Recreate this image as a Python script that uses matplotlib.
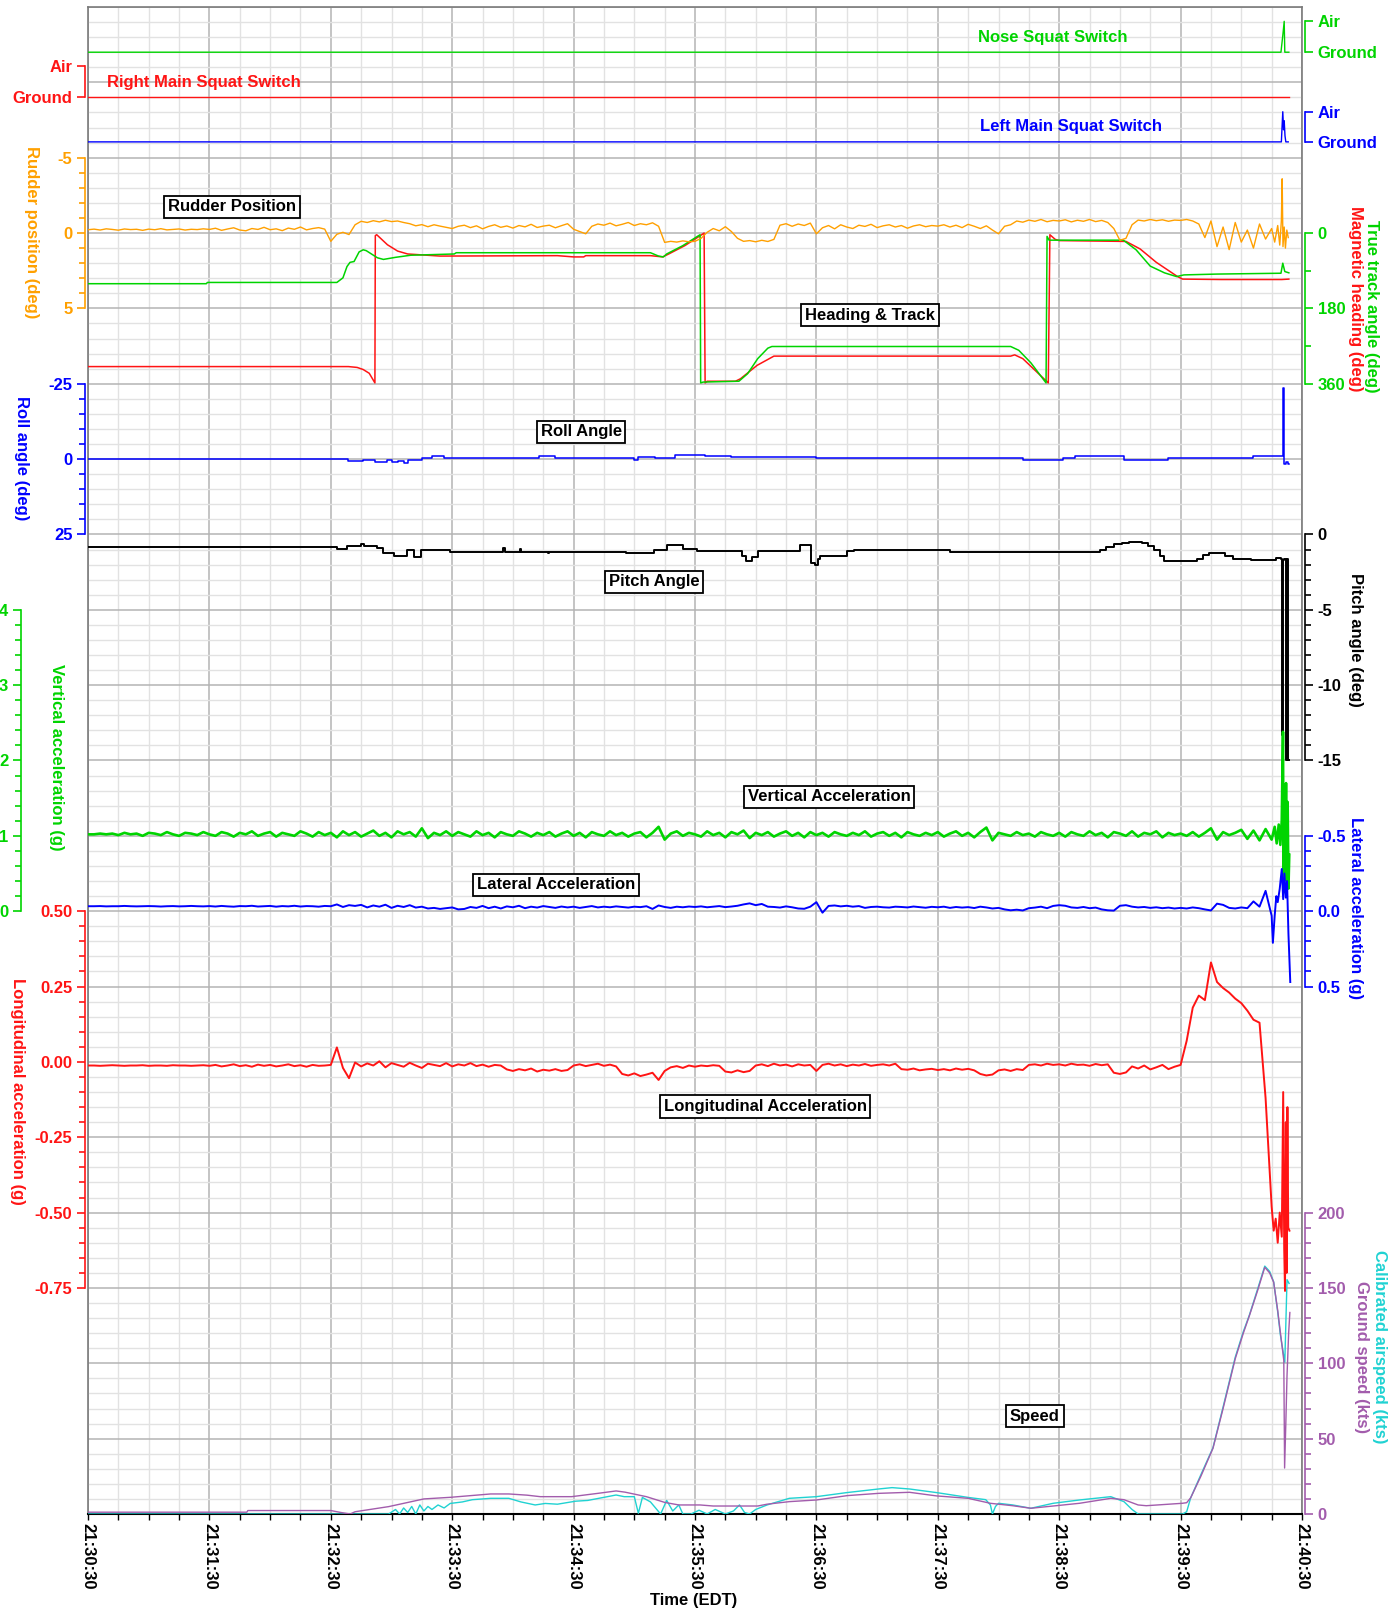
import numpy as np
import matplotlib
matplotlib.use("Agg")
import matplotlib.pyplot as plt

plt.rcParams["font.family"] = ["Liberation Sans", "DejaVu Sans"]
plt.rcParams["font.weight"] = "bold"
plt.rcParams["axes.unicode_minus"] = False

# ── couleurs ────────────────────────────────────────────────
GREEN = "#00d400"
RED = "#ff1414"
BLUE = "#0000ff"
ORANGE = "#ffa000"
PURPLE = "#a25cac"
CYAN = "#20d2d2"
BLACK = "#000000"

# ── axe du temps (secondes depuis 21:30:30) ─────────────────
time_labels = ["21:30:30", "21:31:30", "21:32:30", "21:33:30", "21:34:30", "21:35:30",
               "21:36:30", "21:37:30", "21:38:30", "21:39:30", "21:40:30"]
SAMPLE = 3.0   # pas d'échantillonnage des voies bruitées (s)

# ── squat switches (0 = Ground, 1 = Air) ────────────────────
nose_t = [0, 589.6, 590.6, 591.2, 591.5, 593.5]
nose_v = [0, 0, 0.6, 1.0, 0, 0]
right_main_t = [0, 593.5]
right_main_v = [0, 0]
left_main_t = [0, 589.8, 590.5, 590.9, 591.2, 591.6, 592.0, 593.2]
left_main_v = [0, 0, 1.0, 0.4, 0.7, 0.2, 0, 0]

# ── rudder position (deg), un point toutes les 3 s ──────────
rudder_vals = [
    -0.22, -0.26, -0.20, -0.28, -0.24, -0.19, -0.27, -0.23, -0.25, -0.18, -0.26, -0.22, -0.29, -0.21, -0.24, -0.27, -0.20, -0.25, -0.23, -0.28,
    -0.24, -0.32, -0.18, -0.27, -0.35, -0.20, -0.15, -0.30, -0.24, -0.38, -0.22, -0.28, -0.16, -0.33, -0.25, -0.40, -0.21, -0.30, -0.36, -0.26,
    0.55, 0.08, -0.05, 0.10, -0.55, -0.78, -0.70, -0.82, -0.74, -0.85, -0.76, -0.80, -0.70, -0.62, -0.48, -0.56, -0.42, -0.55, -0.46, -0.38,
    -0.30, -0.45, -0.52, -0.36, -0.48, -0.28, -0.44, -0.55, -0.38, -0.47, -0.33, -0.50, -0.41, -0.58, -0.37, -0.46, -0.52, -0.35, -0.49, -0.62,
    -0.25, -0.10, 0.05, -0.45, -0.60, -0.52, -0.66, -0.48, -0.58, -0.70, -0.50, -0.62, -0.55, -0.68, -0.45, 0.62, 0.55, 0.60, 0.52, 0.58,
    0.55, 0.35, -0.05, -0.30, -0.15, -0.42, -0.10, 0.35, 0.55, 0.50, 0.58, 0.48, 0.56, 0.42, -0.52, -0.62, -0.45, -0.60, -0.50, -0.66,
    0.05, -0.35, -0.50, -0.28, -0.55, -0.40, -0.30, -0.52, -0.44, -0.58, -0.36, -0.48, -0.55, -0.40, -0.50, -0.32, -0.47, -0.55, -0.42, -0.50,
    -0.46, -0.55, -0.40, -0.52, -0.36, -0.58, -0.45, -0.30, -0.48, -0.20, 0.05, -0.45, -0.55, -0.80, -0.72, -0.86, -0.78, -0.90, -0.75, -0.84,
    -0.80, -0.88, -0.74, -0.85, -0.78, -0.90, -0.76, -0.84, -0.70, -0.30, 0.48, 0.35, -0.55, -0.86, -0.80, -0.90, -0.82, -0.88, -0.78, -0.86,
    -0.84, -0.90, -0.80, -0.60, 0.30, -0.80, 0.90, -0.40, 1.10, -0.70, 0.60, -0.20, 1.00, -0.60, 0.40, -0.30,
]
rudder_tail_t = [586.5, 588.0, 589.0, 589.8, 590.2, 590.6, 591.2, 591.8, 592.5, 593.2]
rudder_tail_v = [0.60, -0.50, 0.80, -0.80, -3.60, 0.90, -0.40, 1.00, -0.20, 0.30]

# ── heading & track (deg) ───────────────────────────────────
track_t = [0, 58.5, 59, 123, 126, 128, 129.5, 131.5, 134, 136, 137.5, 143, 146, 152, 159.5, 181, 182,
           278, 282, 284.4, 286, 294, 302.5, 302.8, 304, 321.7, 326, 331, 336, 338, 456, 460, 466,
           473.5, 474, 475, 511.7, 518, 525, 532, 538, 541.6, 558, 589.6, 590.5, 591.5, 593.5]
track_v = [121, 121, 118, 118, 107, 80, 70, 68, 45, 40, 42, 59, 63, 58, 53, 50, 47,
           47, 55, 57, 50, 30, 4, 358, 356, 354, 336, 300, 275, 271, 271, 280, 310,
           358, 8, 17, 17, 40, 79, 95, 104, 100, 98, 96, 72, 92, 95]
heading_t = [0, 128.7, 133, 136, 139, 141.8, 142.0, 142.7, 148, 153, 158, 174, 232, 240, 245, 246,
             278, 284, 287, 295, 303, 304.5, 305, 306, 320, 322.5, 330.7, 339, 456, 458, 462,
             474.6, 475.4, 478, 480, 513, 520, 528, 538.5, 541, 560, 590, 593.5]
heading_v = [319, 319, 321, 326, 335, 358, 6, 4, 28, 43, 50, 55, 54, 57, 57, 54,
             54, 57, 50, 30, 5, 0, 358, 354, 354, 348, 316, 294, 294, 291, 300,
             358, 4, 15, 18, 20, 38, 70, 104, 110, 111, 111, 110]

# ── roll angle (deg), en escalier ───────────────────────────
roll_t = [0, 128.6, 136, 142, 148, 150, 153, 156, 158, 165, 170, 176, 223, 231, 270, 272, 280,
          290, 305, 318, 360, 420, 462, 482, 488, 512, 534, 576, 590.4, 590.6, 590.9, 591.2,
          592.0, 593.0, 593.5]
roll_v = [0, 0.5, 0.4, 0.8, 0.2, 1.0, 0.5, 1.2, 0.3, -0.3, -0.9, -0.5, -0.9, -0.5, 0.2, -0.6, -0.5,
          -1.2, -0.9, -0.6, -0.4, -0.5, 0.4, -0.3, -1.0, 0.4, -0.3, -0.9, -8.0, -23.6, -12.0, 1.5,
          0.8, 1.5, 1.5]

# ── pitch angle (deg), en escalier ──────────────────────────
pitch_t = [0, 123.3, 128.2, 134.8, 136.4, 143, 146, 151, 157.8, 161, 164.4, 179, 205.3, 206,
           213.5, 214, 227.5, 228, 266, 279.5, 286, 294, 301, 323, 325, 328, 331, 352, 357.5,
           359.5, 361, 362, 375, 378.4, 400, 426, 500, 503, 507, 511, 514.7, 521, 524, 527,
           530, 532, 548, 551, 554, 562, 566, 575, 587, 589.5, 590.0, 590.6, 591.0, 592.2,
           592.4, 593.3, 593.6]
pitch_v = [-0.8, -0.95, -0.77, -0.66, -0.77, -0.9, -1.2, -1.4, -1.0, -1.5, -1.06, -1.15, -0.9, -1.15,
           -0.95, -1.15, -1.25, -1.15, -1.26, -1.0, -0.73, -0.95, -1.1, -1.4, -1.77, -1.5, -1.1, -0.73, -1.9,
           -2.0, -1.6, -1.44, -1.1, -1.0, -1.05, -1.15, -1.0, -0.85, -0.66, -0.55, -0.47, -0.6, -0.75, -1.0,
           -1.4, -1.75, -1.6, -1.35, -1.25, -1.4, -1.65, -1.7, -1.55, -1.6, -13.3, -1.7, -1.6, -15.0,
           -1.6, -15.0, -15.0]

# ── vertical acceleration (g), un point toutes les 3 s ──────
vert_vals = [
    1.02, 1.02, 1.03, 1.02, 1.03, 1.01, 1.04, 1.02, 1.03, 1.00, 1.04, 1.03, 1.01, 1.05, 1.02, 1.00, 1.04, 1.03, 1.01, 1.05,
    1.02, 1.00, 1.05, 1.03, 0.99, 1.04, 1.02, 1.06, 1.00, 1.03, 1.05, 0.99, 1.04, 1.02, 1.00, 1.06, 1.03, 0.99, 1.05, 1.01,
    1.04, 0.98, 1.06, 1.01, 1.05, 0.99, 1.03, 1.07, 1.00, 1.04, 0.98, 1.06, 1.02, 1.05, 0.99, 1.10, 0.97, 1.04, 1.01, 1.06,
    1.00, 1.05, 1.02, 0.99, 1.06, 1.01, 1.04, 0.98, 1.05, 1.02, 1.00, 1.06, 1.03, 0.99, 1.04, 1.01, 1.05, 0.99, 1.03, 1.06,
    1.00, 1.04, 0.98, 1.05, 1.02, 1.00, 1.06, 1.01, 1.04, 0.99, 1.03, 1.05, 0.98, 1.04, 1.12, 0.95, 1.03, 1.06, 1.00, 1.04,
    1.02, 0.99, 1.06, 1.01, 1.04, 0.98, 1.05, 1.02, 1.07, 0.97, 1.04, 1.01, 1.05, 0.99, 1.03, 1.06, 1.00, 1.04, 0.98, 1.05,
    1.01, 1.04, 0.99, 1.05, 1.02, 1.00, 1.04, 1.01, 1.06, 0.99, 1.03, 1.05, 1.00, 1.04, 0.98, 1.05, 1.02, 1.00, 1.04, 1.01,
    1.05, 0.99, 1.03, 1.06, 1.00, 1.04, 0.98, 1.05, 1.11, 0.94, 1.04, 1.02, 1.00, 1.05, 1.01, 1.03, 0.99, 1.05, 1.02, 1.00,
    1.04, 0.99, 1.05, 1.02, 1.00, 1.06, 1.01, 1.04, 0.98, 1.05, 1.03, 1.00, 1.06, 0.99, 1.04, 1.02, 1.06, 0.98, 1.04, 1.01,
    1.03, 1.00, 1.05, 0.99, 1.04, 1.10, 0.95, 1.05, 1.01, 1.04, 1.08, 0.96, 1.07, 0.94, 1.09, 0.95,
]
vert_tail_t = [586.5, 587.5, 588.5, 589.3, 590.0, 590.6, 590.9, 591.3, 591.7, 592.1, 592.5, 592.9, 593.3, 593.7]
vert_tail_v = [1.12, 0.90, 1.15, 0.88, 1.20, 2.38, 0.25, 1.60, 0.60, 1.70, 0.40, 1.45, 0.30, 0.75]

# ── lateral acceleration (g) ────────────────────────────────
lat_vals = [
    -0.033, -0.033, -0.034, -0.032, -0.033, -0.033, -0.035, -0.033, -0.032, -0.033, -0.034, -0.033, -0.031, -0.033, -0.034, -0.032, -0.033, -0.035, -0.033, -0.032,
    -0.034, -0.031, -0.035, -0.032, -0.030, -0.034, -0.033, -0.036, -0.031, -0.033, -0.035, -0.030, -0.034, -0.032, -0.036, -0.031, -0.034, -0.033, -0.030, -0.035,
    -0.033, -0.045, -0.028, -0.040, -0.035, -0.042, -0.025, -0.038, -0.030, -0.043, -0.022, -0.036, -0.028, -0.040, -0.024, -0.030, -0.018, -0.022, -0.015, -0.020,
    -0.025, -0.012, -0.015, -0.028, -0.022, -0.035, -0.020, -0.030, -0.018, -0.032, -0.026, -0.036, -0.020, -0.030, -0.024, -0.034, -0.028, -0.022, -0.031, -0.025,
    -0.030, -0.022, -0.028, -0.034, -0.025, -0.030, -0.026, -0.032, -0.028, -0.024, -0.030, -0.027, -0.033, -0.015, -0.038, -0.028, -0.022, -0.030, -0.026, -0.031,
    -0.028, -0.032, -0.026, -0.030, -0.034, -0.027, -0.031, -0.036, -0.045, -0.052, -0.040, -0.048, -0.030, -0.028, -0.024, -0.032, -0.026, -0.018, -0.016, -0.030,
    -0.060, 0.010, -0.035, -0.038, -0.032, -0.036, -0.030, -0.034, -0.022, -0.028, -0.030, -0.026, -0.024, -0.030, -0.028, -0.025, -0.031, -0.027, -0.023, -0.029,
    -0.026, -0.030, -0.022, -0.028, -0.024, -0.027, -0.021, -0.030, -0.025, -0.018, -0.022, -0.012, -0.006, -0.010, -0.005, -0.020, -0.024, -0.030, -0.020, -0.035,
    -0.040, -0.036, -0.025, -0.022, -0.028, -0.020, -0.024, -0.012, -0.006, -0.004, -0.036, -0.040, -0.030, -0.025, -0.028, -0.022, -0.026, -0.020, -0.024, -0.018,
    -0.022, -0.018, -0.025, -0.020, -0.012, -0.005, -0.050, -0.042, -0.022, -0.018, -0.025, -0.020, -0.065, -0.030, -0.135, 0.030,
]
lat_tail_t = [585.6, 586.5, 587.3, 588.0, 589.0, 590.0, 590.7, 591.3, 592.0, 592.6, 593.3, 594.2]
lat_tail_v = [0.21, 0.03, -0.10, -0.06, -0.15, -0.28, -0.08, -0.25, -0.09, -0.20, 0.15, 0.47]

# ── longitudinal acceleration (g) ───────────────────────────
long_vals = [
    -0.012, -0.012, -0.013, -0.012, -0.011, -0.012, -0.013, -0.012, -0.012, -0.011, -0.013, -0.012, -0.012, -0.013, -0.011, -0.012, -0.012, -0.013, -0.012, -0.011,
    -0.013, -0.010, -0.015, -0.012, -0.008, -0.014, -0.011, -0.016, -0.009, -0.013, -0.010, -0.015, -0.012, -0.008, -0.014, -0.011, -0.016, -0.010, -0.013, -0.012,
    -0.010, 0.048, -0.020, -0.054, -0.002, -0.015, -0.005, -0.012, 0.002, -0.018, -0.004, -0.010, -0.016, -0.003, -0.012, -0.020, -0.006, -0.010, -0.014, -0.004,
    -0.015, -0.008, -0.012, -0.004, -0.014, -0.009, -0.016, -0.010, -0.012, -0.025, -0.030, -0.024, -0.028, -0.022, -0.032, -0.026, -0.029, -0.024, -0.030, -0.027,
    -0.012, -0.008, -0.014, -0.010, -0.006, -0.013, -0.009, -0.015, -0.040, -0.045, -0.038, -0.047, -0.042, -0.036, -0.060, -0.030, -0.018, -0.014, -0.020, -0.012,
    -0.016, -0.012, -0.014, -0.011, -0.013, -0.032, -0.035, -0.028, -0.034, -0.030, -0.012, -0.008, -0.014, -0.006, -0.012, -0.009, -0.015, -0.008, -0.012, -0.010,
    -0.030, -0.010, -0.006, -0.012, -0.008, -0.014, -0.009, -0.012, -0.007, -0.013, -0.010, -0.008, -0.012, -0.006, -0.024, -0.026, -0.022, -0.028, -0.025, -0.023,
    -0.027, -0.024, -0.028, -0.022, -0.026, -0.023, -0.028, -0.040, -0.045, -0.042, -0.028, -0.025, -0.030, -0.024, -0.027, -0.010, -0.008, -0.012, -0.006, -0.010,
    -0.008, -0.012, -0.006, -0.010, -0.009, -0.013, -0.007, -0.011, -0.008, -0.036, -0.040, -0.035, -0.015, -0.022, -0.012, -0.025, -0.018, -0.010, -0.024, -0.016,
    -0.010, 0.070, 0.180, 0.220, 0.205, 0.330, 0.265, 0.245, 0.230, 0.210, 0.195, 0.170, 0.140, 0.130, -0.120, -0.480,
]
long_tail_t = [586.0, 587.0, 588.0, 589.0, 590.0, 590.7, 591.2, 591.6, 592.0, 592.4, 592.8, 593.2, 593.8]
long_tail_v = [-0.56, -0.52, -0.60, -0.50, -0.58, -0.10, -0.62, -0.76, -0.20, -0.70, -0.15, -0.55, -0.56]

# ── speed (kts) ─────────────────────────────────────────────
gs_t = [0, 78.5, 79, 120, 125, 129.6, 132, 148.6, 166, 179.4, 199, 208, 217, 223.5, 239, 252, 261,
        265.4, 276, 285, 292, 302.5, 309, 331, 335.6, 346.6, 360, 375.3, 390.7, 406, 419.4, 435,
        446, 457, 466, 477, 490, 505.5, 512, 519, 523, 540.8, 543, 545, 550, 556, 561, 567, 571,
        574, 578, 581.6, 584, 586, 588, 589.3, 591.0, 591.4, 592.0, 592.6, 593.4, 594]
gs_v = [1.2, 1.2, 2.3, 2.3, 1.0, 0, 1.5, 4.9, 10, 11.1, 13.3, 13.3, 12.5, 11.5, 11.5, 13.7, 15.3,
        14.5, 11.5, 7.7, 6.0, 6.0, 5.3, 5.3, 6.5, 8.2, 9.3, 12.2, 13.7, 14.4, 12.0, 10.4,
        7.1, 5.5, 3.8, 5.3, 7.1, 10.4, 9.5, 6.0, 5.5, 7.1, 7.5, 10.8, 25, 43.6, 70, 103, 120,
        131.6, 148, 163.7, 160, 153.8, 135, 120.6, 102, 30.5, 60, 92, 120, 133.7]
cas_t = [0, 148.6, 152, 154, 156, 158, 160, 162, 164, 166, 168, 170, 173, 176, 179, 185, 190, 199,
         208, 214, 221, 226, 232, 241, 247, 254, 261, 265, 270, 272, 274, 278, 280.5, 283, 286, 289,
         292, 294, 298, 302, 306, 310, 315, 319, 322, 324.5, 327, 330, 335.6, 346.6, 360, 375,
         390.7, 397.4, 406, 419.4, 435, 443.7, 446, 447, 448.5, 450, 457, 466, 470, 477, 490,
         505.5, 512, 516, 519, 541, 543, 545, 550, 556, 561, 567, 571, 574, 578, 581.6, 584, 586,
         588, 589.3, 591.5, 592.6, 593.6]
cas_v = [0, 0, 3, 0, 4, 1, 5, 0, 6, 2, 5, 3, 6, 4, 7, 8, 9.5, 10.4,
         10.4, 8, 6, 7, 6.5, 8.5, 9, 10.8, 12.6, 11.5, 11.5, 0.5, 11, 8, 4, 0, 9, 2,
         6, 0, 0, 2.5, 0, 3, 0, 2, 6, 1, 0, 3, 6, 10.4, 11.5, 14.2,
         16.6, 17.5, 16.6, 14.2, 11, 9.5, 6, 0, 5, 7.1, 6, 3.8, 5, 7.1, 9.3,
         11.5, 8.2, 3, 0, 0, 1.5, 10.8, 26, 44, 71, 104, 121, 132, 149, 164.5, 161, 154,
         134, 119, 100.7, 155.5, 153]


def sampled(vals, tail_t, tail_v):
    """Voie échantillonnée toutes les SAMPLE s + points de fin de vol."""
    t = list(np.arange(len(vals)) * SAMPLE) + list(tail_t)
    return t, list(vals) + list(tail_v)


# ── figure & grille commune (20 divisions verticales) ──────
fig = plt.figure(figsize=(13.97, 16.18), dpi=100, facecolor="white")
main = fig.add_axes([88 / 1397, 1 - 1514 / 1618, 1214 / 1397, 1507 / 1618])
main.set_xlim(0, 600)
main.set_ylim(0, 20)
main.set_xticks(np.arange(0, 601, 60))
main.set_xticks(np.arange(0, 601, 15), minor=True)
main.set_xticklabels(time_labels)
main.set_yticks(np.arange(0, 21, 1))
main.set_yticks(np.arange(0, 20.01, 0.2), minor=True)
main.tick_params(axis="y", which="both", length=0, labelleft=False)
main.tick_params(axis="x", which="both", length=4.5, width=1.0, color=BLACK,
                 labelsize=12, labelrotation=270, pad=2)
main.grid(which="minor", color="#e2e2e2", lw=1.0)
main.grid(which="major", color="#b4b4b4", lw=1.1)
main.set_axisbelow(True)
main.spines["bottom"].set_color(BLACK)
main.spines["bottom"].set_linewidth(1.5)
for side in ("left", "top", "right"):
    main.spines[side].set_color("#7a7a7a")
    main.spines[side].set_linewidth(1.2)


def add_scale(v_lo, g_lo, v_hi, g_hi, side, color, ticks, labels, minor=(), offset=2.2):
    """Axe jumeau dont la valeur v_lo tombe sur la division g_lo et v_hi sur g_hi."""
    a = main.twinx()
    slope = (v_hi - v_lo) / (g_hi - g_lo)
    a.set_ylim(v_lo - g_lo * slope, v_lo + (20 - g_lo) * slope)
    for sp in a.spines.values():
        sp.set_visible(False)
    sp = a.spines[side]
    sp.set_visible(True)
    sp.set_position(("outward", offset))
    sp.set_bounds(min(v_lo, v_hi), max(v_lo, v_hi))
    sp.set_color(color)
    sp.set_linewidth(1.2)
    if side == "left":
        a.yaxis.tick_left()
    else:
        a.yaxis.tick_right()
    a.set_yticks(ticks)
    a.set_yticklabels(labels)
    a.set_yticks(list(minor), minor=True)
    a.tick_params(axis="y", which="major", length=6, width=1.2, color=color,
                  labelcolor=color, labelsize=12, pad=3)
    a.tick_params(axis="y", which="minor", length=4, width=1.2, color=color)
    return a


# squat switches
ax_nose = add_scale(0, 19.40, 1, 19.81, "right", GREEN, [0, 1], ["Ground", "Air"])
ax_nose.plot(nose_t, nose_v, color=GREEN, lw=1.0)
ax_rm = add_scale(0, 18.81, 1, 19.22, "left", RED, [0, 1], ["Ground", "Air"])
ax_rm.plot(right_main_t, right_main_v, color=RED, lw=1.0)
ax_lm = add_scale(0, 18.21, 1, 18.61, "right", BLUE, [0, 1], ["Ground", "Air"])
ax_lm.plot(left_main_t, left_main_v, color=BLUE, lw=1.0)

# heading & track
ax_hdg = add_scale(0, 17, 360, 15, "right", GREEN, [0, 180, 360], ["0", "180", "360"], minor=[90, 270])
ax_hdg.plot(heading_t, heading_v, color=RED, lw=1.1)
ax_hdg.plot(track_t, track_v, color=GREEN, lw=1.1)

# rudder
ax_rud = add_scale(-5, 18, 5, 16, "left", ORANGE, [-5, 0, 5], ["-5", "0", "5"], minor=np.arange(-5, 6, 1))
t, v = sampled(rudder_vals, rudder_tail_t, rudder_tail_v)
ax_rud.plot(t, v, color=ORANGE, lw=1.0)

# roll
ax_roll = add_scale(-25, 15, 25, 13, "left", BLUE, [-25, 0, 25], ["-25", "0", "25"], minor=np.arange(-25, 26, 5))
ax_roll.plot(roll_t, roll_v, color=BLUE, lw=1.1, drawstyle="steps-post")

# pitch
ax_pitch = add_scale(0, 13, -15, 10, "right", BLACK, [0, -5, -10, -15], ["0", "-5", "-10", "-15"],
                     minor=np.arange(-15, 1, 1))
ax_pitch.plot(pitch_t, pitch_v, color=BLACK, lw=1.4, drawstyle="steps-post")

# vertical acceleration (échelle décalée à gauche)
ax_vert = add_scale(0, 8, 4, 12, "left", GREEN, [0, 1, 2, 3, 4], ["0", "1", "2", "3", "4"],
                    minor=np.arange(0, 4.01, 0.2), offset=48.5)
t, v = sampled(vert_vals, vert_tail_t, vert_tail_v)
ax_vert.plot(t, v, color=GREEN, lw=1.9)

# lateral acceleration
ax_lat = add_scale(-0.5, 9, 0.5, 7, "right", BLUE, [-0.5, 0, 0.5], ["-0.5", "0.0", "0.5"],
                   minor=np.arange(-0.5, 0.51, 0.1))
t, v = sampled(lat_vals, lat_tail_t, lat_tail_v)
ax_lat.plot(t, v, color=BLUE, lw=1.4)

# longitudinal acceleration
ax_long = add_scale(-0.75, 3, 0.5, 8, "left", RED, [0.5, 0.25, 0, -0.25, -0.5, -0.75],
                    ["0.50", "0.25", "0.00", "-0.25", "-0.50", "-0.75"], minor=np.arange(-0.75, 0.51, 0.05))
t, v = sampled(long_vals, long_tail_t, long_tail_v)
ax_long.plot(t, v, color=RED, lw=1.4)

# speed
ax_spd = add_scale(0, 0, 200, 4, "right", PURPLE, [0, 50, 100, 150, 200], ["0", "50", "100", "150", "200"],
                   minor=np.arange(0, 201, 10))
ax_spd.plot(cas_t, cas_v, color=CYAN, lw=1.0)
ax_spd.plot(gs_t, gs_v, color=PURPLE, lw=1.0)

# ── étiquettes dans le tracé ────────────────────────────────
over = main.twinx()
over.set_ylim(0, 20)
over.axis("off")
box = dict(boxstyle="square,pad=0.22", fc="white", ec=BLACK, lw=1.3)
for s, x, y in [("Rudder Position", 71.2, 17.35), ("Heading & Track", 386.5, 15.91),
                ("Roll Angle", 243.7, 14.36), ("Pitch Angle", 279.7, 12.37),
                ("Vertical Acceleration", 366.2, 9.52), ("Lateral Acceleration", 231.3, 8.35),
                ("Longitudinal Acceleration", 334.6, 5.41), ("Speed", 468.0, 1.30)]:
    over.text(x, y, s, ha="center", va="center", fontsize=12, color=BLACK, bbox=box)
for s, x, y, c in [("Nose Squat Switch", 477.0, 19.60, GREEN),
                   ("Right Main Squat Switch", 57.3, 19.00, RED),
                   ("Left Main Squat Switch", 485.8, 18.42, BLUE)]:
    over.text(x, y, s, ha="center", va="center", fontsize=12, color=c)

# ── titres d'axes verticaux ─────────────────────────────────
for s, x, y, c in [("Rudder position (deg)", 31, 232, ORANGE),
                   ("Roll angle (deg)", 21, 458, BLUE),
                   ("Vertical acceleration (g)", 56, 757, GREEN),
                   ("Longitudinal acceleration (g)", 17, 1091, RED),
                   ("Magnetic heading (deg)", 1355, 299, RED),
                   ("True track angle (deg)", 1372, 306, GREEN),
                   ("Pitch angle (deg)", 1356, 640, BLACK),
                   ("Lateral acceleration (g)", 1355, 908, BLUE),
                   ("Ground speed (kts)", 1362, 1357, PURPLE),
                   ("Calibrated airspeed (kts)", 1380, 1347, CYAN)]:
    fig.text(x / 1397, 1 - y / 1618, s, rotation=270, ha="center", va="center", fontsize=12, color=c)
fig.text(694 / 1397, 1 - 1601 / 1618, "Time (EDT)", ha="center", va="center", fontsize=12, color=BLACK)

fig.savefig("out.png", dpi=100, facecolor="white")
